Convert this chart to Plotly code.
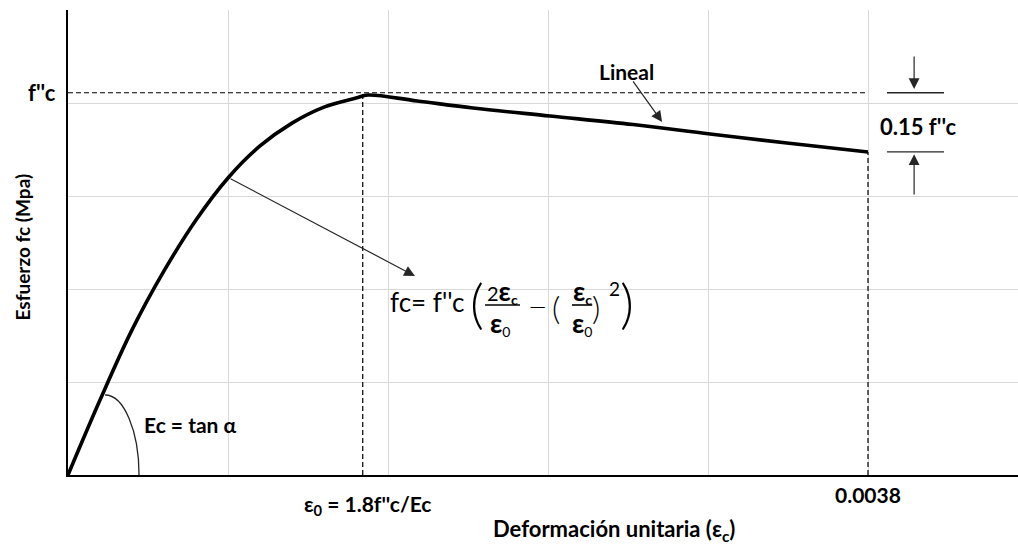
import plotly.graph_objects as go

# Stress-strain curve of concrete (Hognestad-type model)
strain = [0, 0.000152, 0.000304, 0.000456, 0.000608, 0.00076, 0.000912,
          0.001064, 0.001216, 0.001368, 0.001425, 0.001658, 0.001924,
          0.00229, 0.002684, 0.00305, 0.003415, 0.0038]
stress = [0, 4.03, 7.80, 10.97, 13.71, 15.97, 17.69,
          18.92, 19.78, 20.27, 20.43, 20.11, 19.73,
          19.30, 18.84, 18.33, 17.85, 17.37]

E0 = 0.0014          # strain at peak stress
EU = 0.0038          # ultimate strain
FC = 20.55           # f''c reference level
FC_END = 17.37       # 0.85 f''c at ultimate strain

x_grid_step = 0.00076
y_grid_step = 5
x_range = [0, 0.0045125]
y_range = [0, 25]

FONT = "Lato, 'Open Sans', sans-serif"
ARROW = "#262626"

fig = go.Figure()

fig.add_trace(go.Scatter(
    x=strain, y=stress, mode="lines",
    line=dict(color="black", width=3.6, shape="spline", smoothing=1.0),
    hoverinfo="skip", showlegend=False,
))

dash = "5px,3px"
shapes = [
    dict(type="line", xref="x", yref="y", x0=0, x1=EU, y0=FC, y1=FC,
         line=dict(color="black", width=1.2, dash=dash)),
    dict(type="line", xref="x", yref="y", x0=E0, x1=E0, y0=0, y1=FC,
         line=dict(color="black", width=1.2, dash=dash)),
    dict(type="line", xref="x", yref="y", x0=EU, x1=EU, y0=0, y1=FC_END,
         line=dict(color="black", width=1.2, dash=dash)),
    # bars bounding the 0.15 f''c drop
    dict(type="line", xref="x", yref="y", x0=0.00389, x1=0.004161, y0=FC, y1=FC,
         line=dict(color=ARROW, width=1.3)),
    dict(type="line", xref="x", yref="y", x0=0.00389, x1=0.004161, y0=FC_END, y1=FC_END,
         line=dict(color=ARROW, width=1.3)),
    # fraction bars of the formula
    dict(type="line", xref="x", yref="y", x0=0.001981, x1=0.002147, y0=9.14, y1=9.14,
         line=dict(color="black", width=1.6)),
    dict(type="line", xref="x", yref="y", x0=0.002394, x1=0.00249, y0=9.14, y1=9.14,
         line=dict(color="black", width=1.6)),
]

# angle arc for the initial tangent modulus
cx, cy, rx, ry = 0.000176, 0.0, 0.0001615, 4.3
k = 0.5523
shapes.append(dict(
    type="path", xref="x", yref="y",
    path=(f"M {cx},{cy + ry} C {cx + k * rx},{cy + ry} "
          f"{cx + rx},{cy + k * ry} {cx + rx},{cy}"),
    line=dict(color=ARROW, width=1.3),
))

annotations = []


def label(text, x, y, size, weight="bold", **kw):
    d = dict(text=text, x=x, y=y, xref="x", yref="y", showarrow=False,
             font=dict(family=FONT, size=size, color="black", weight=weight))
    d.update(kw)
    annotations.append(d)


def arrow(x_tail, y_tail, x_tip, y_tip):
    annotations.append(dict(
        text="", x=x_tip, y=y_tip, ax=x_tail, ay=y_tail,
        xref="x", yref="y", axref="x", ayref="y",
        showarrow=True, arrowhead=2, arrowsize=1.8, arrowwidth=1.2,
        arrowcolor=ARROW, standoff=0, startstandoff=0,
    ))


# axis labels placed at the reference values
annotations.append(dict(text="f''c", xref="paper", yref="y", x=0, y=FC,
                        xanchor="right", xshift=-10, showarrow=False,
                        font=dict(family=FONT, size=22, color="black", weight="bold")))
annotations.append(dict(text="ε<sub>0</sub> = 1.8f''c/Ec", xref="x", yref="paper",
                        x=E0, y=0, yanchor="middle", xshift=5, yshift=-30, showarrow=False,
                        font=dict(family=FONT, size=21, color="black", weight="bold")))
annotations.append(dict(text="0.0038", xref="x", yref="paper",
                        x=EU, y=0, yanchor="middle", yshift=-19, showarrow=False,
                        font=dict(family=FONT, size=21, color="black", weight="bold")))
annotations.append(dict(text="Deformación unitaria (ε<sub>c</sub>)", xref="x", yref="paper",
                        x=0.002594, y=0, yanchor="middle", yshift=-55, showarrow=False,
                        font=dict(family=FONT, size=22, color="black", weight="bold")))
annotations.append(dict(text="Esfuerzo fc (Mpa)", xref="paper", yref="paper",
                        x=0, y=0.5, xanchor="center", xshift=-46, yshift=-5, textangle=-90,
                        showarrow=False,
                        font=dict(family=FONT, size=19, color="black", weight="bold")))

label("Lineal", 0.002651, 21.67, 21)
label("Ec = tan α", 0.000584, 2.69, 21)
label("0.15 f''c", 0.004042, 18.71, 22)

# formula: fc = f''c (2εc/ε0 − (εc/ε0)²)
EPS = '<span style="font-size:27px"><b>ε</b></span>'
label("fc= f''c", 0.00152, 9.30, 26, weight="normal", xanchor="left")
label("(", 0.001943, 9.25, 54, weight=300)
label(f"2{EPS}<sub><b>c</b></sub>", 0.002062, 9.9, 20, weight="normal")
label(f"{EPS}<sub>0</sub>", 0.002052, 8.15, 20, weight="normal")
label("—", 0.002228, 9.14, 22, weight=300)
label("(", 0.002318, 9.03, 32, weight=300)
label(f"{EPS}<sub><b>c</b></sub>", 0.002442, 9.9, 20, weight="normal")
label(f"{EPS}<sub>0</sub>", 0.002442, 8.15, 20, weight="normal")
label(")", 0.002508, 9.03, 32, weight=300)
label("2", 0.002594, 10.05, 19, weight="normal")
label(")", 0.002655, 9.25, 54, weight=300)

arrow(0.000765, 15.97, 0.001648, 10.70)
arrow(0.002679, 21.24, 0.002822, 18.98)
arrow(0.004019, 22.58, 0.004019, 20.75)
arrow(0.004019, 15.0, 0.004019, 17.25)

fig.update_layout(
    width=1018, height=546,
    margin=dict(l=68, r=0, t=10, b=71),
    paper_bgcolor="white", plot_bgcolor="white",
    shapes=shapes, annotations=annotations,
    showlegend=False,
    xaxis=dict(range=x_range, tick0=0, dtick=x_grid_step, showticklabels=False,
               ticks="", showgrid=True, gridcolor="#d9d9d9", gridwidth=1,
               zeroline=False, showline=True, linecolor="black", linewidth=1.5),
    yaxis=dict(range=y_range, tick0=0, dtick=y_grid_step, showticklabels=False,
               ticks="", showgrid=True, gridcolor="#d9d9d9", gridwidth=1,
               zeroline=False, showline=True, linecolor="black", linewidth=1.5),
)

fig.write_html("out.html")
